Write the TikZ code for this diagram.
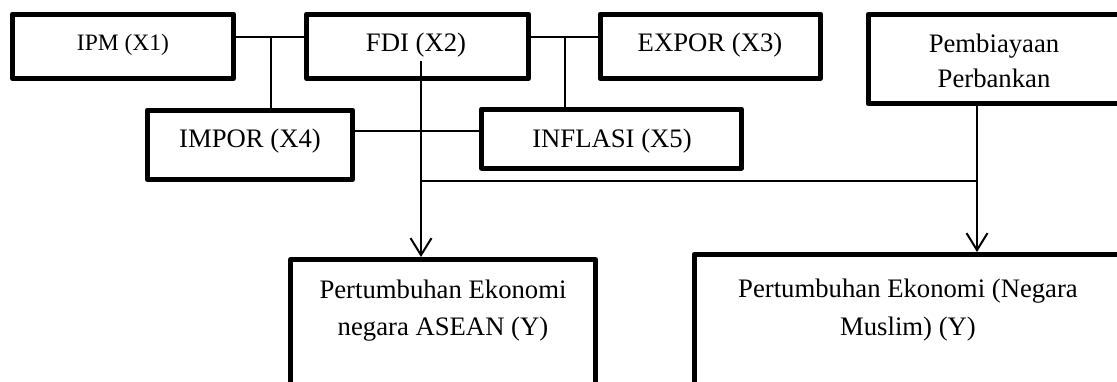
\documentclass[tikz,border=0pt]{standalone}
\usepackage{fontspec}
\setmainfont{Liberation Serif}
\usetikzlibrary{arrows.meta}
\begin{document}
\begin{tikzpicture}[x=0.5pt,y=-0.5pt,
  box/.style={draw, line width=2.5pt, rectangle, inner sep=0pt, outer sep=0pt, line join=round},
  lbl/.style={anchor=base, inner sep=0pt, font=\fontsize{13.35}{16}\selectfont},
  lblsmall/.style={anchor=base, inner sep=0pt, font=\fontsize{11.75}{14}\selectfont},
  conn/.style={line width=1pt},
  thinconn/.style={line width=0.75pt},
  arr/.style={conn, shorten >=1.25pt, -{Straight Barb[length=8.5pt,width=10.5pt]}}]
\useasboundingbox (0,0) rectangle (1117,381);
\clip (0,0) rectangle (1117,381);
% boxes
\node[box, minimum width=110.5pt, minimum height=32.25pt] (ipm) at (123,46.25) {};
\node[box, minimum width=111pt, minimum height=32.25pt] (fdi) at (417.5,46.25) {};
\node[box, minimum width=110.25pt, minimum height=32.25pt] (expor) at (710.25,46.25) {};
\node[box, minimum width=131pt, minimum height=44.5pt] (pem) at (999,59) {};
\node[box, minimum width=102.5pt, minimum height=34.75pt] (impor) at (250,144.75) {};
\node[box, minimum width=130pt, minimum height=29.5pt] (inflasi) at (611.5,138.5) {};
\node[box, minimum width=152.5pt, minimum height=85.25pt] (asean) at (443,344.75) {};
\node[box, minimum width=218pt, minimum height=87.75pt] (muslim) at (912,342.25) {};
% labels
\node[lblsmall] (ipmt) at (123,50) {IPM (X1)};
\node[lbl] (fdit) at (416,51) {FDI (X2)};
\node[lbl] (export) at (710,51) {EXPOR (X3)};
\node[lbl] (pemt1) at (994,52) {Pembiayaan};
\node[lbl] (pemt2) at (994,87.5) {Perbankan};
\node[lbl] (impt) at (250,147) {IMPOR (X4)};
\node[lbl] (inft) at (612,147) {INFLASI (X5)};
\node[lbl] (aseant1) at (443,298) {Pertumbuhan Ekonomi};
\node[lbl] (aseant2) at (443,335) {negara ASEAN (Y)};
\node[lbl] (muslimt1) at (908,297) {Pertumbuhan Ekonomi (Negara};
\node[lbl] (muslimt2) at (908,335) {Muslim) (Y)};
% coordinates
\coordinate (j1) at (270.5,37);
\coordinate (j2) at (565,37);
\coordinate (m) at (0,131);
\coordinate (fs) at (421,61);
\coordinate (ps) at (977,0);
\coordinate (h) at (0,181);
% connectors
\draw[conn] (ipm.east |- j1) -- (fdi.west |- j1);
\draw[conn] (j1) -- (j1 |- impor.north);
\draw[conn] (fdi.east |- j2) -- (expor.west |- j2);
\draw[conn] (j2) -- (j2 |- inflasi.north);
\draw[thinconn] (impor.east |- m) -- (inflasi.west |- m);
\draw[arr] (fs) -- (fs |- asean.north);
\draw[arr] (ps |- pem.south) -- (ps |- muslim.north);
\draw[conn] (fs |- h) -- (ps |- h);
\end{tikzpicture}
\end{document}
